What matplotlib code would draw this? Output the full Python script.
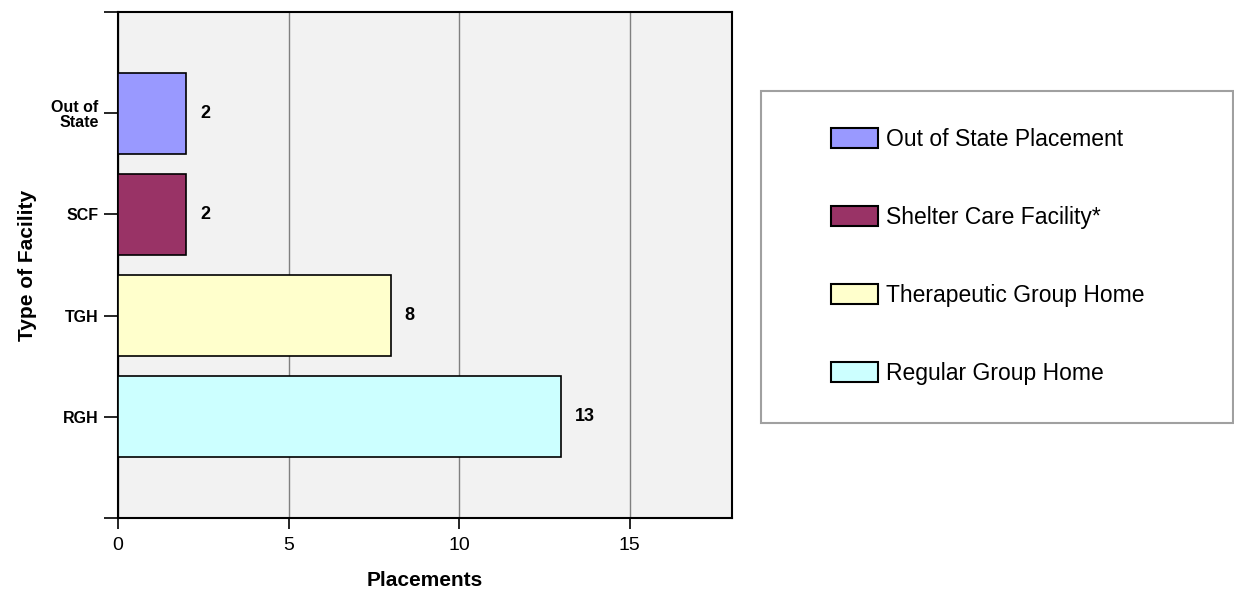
import matplotlib.pyplot as plt
from matplotlib.patches import Rectangle

# datos
categorias = ['RGH', 'TGH', 'SCF', 'Out of\nState']
valores = [13, 8, 2, 2]
nombres = ['Regular Group Home', 'Therapeutic Group Home', 'Shelter Care Facility*', 'Out of State Placement']
colores = ['#ccffff', '#ffffcc', '#993366', '#9999ff']

plt.rcParams['font.family'] = ['Liberation Sans', 'DejaVu Sans']

fig = plt.figure(figsize=(12.34, 5.97), dpi=100)
ax = fig.add_axes([118 / 1234, 1 - 518 / 597, (732 - 118) / 1234, (518 - 12) / 597])
ax.set_facecolor('#f2f2f2')

y = range(len(categorias))
barras = ax.barh(y, valores, height=0.8, color=colores, edgecolor='black', linewidth=1.2, zorder=3)
ax.bar_label(barras, padding=10, fontsize=13, fontweight='bold')

ax.set_xlim(0, 18)
ax.set_ylim(-1, 4)
ax.set_xticks([0, 5, 10, 15])
ax.tick_params(axis='x', labelsize=14, length=8, width=1.2, direction='out', pad=6)
ax.set_yticks([-1, 0, 1, 2, 3, 4])
ax.set_yticklabels([''] + categorias + [''], fontsize=11.5, fontweight='bold', linespacing=1.0)
ax.tick_params(axis='y', length=10, width=1.2, pad=4)
ax.grid(axis='x', color='#808080', linewidth=1, zorder=0)
for s in ax.spines.values():
    s.set_linewidth(1.5)

ax.set_xlabel('Placements', fontsize=15, fontweight='bold', labelpad=12)
ax.set_ylabel('Type of Facility', fontsize=15, fontweight='bold', labelpad=10)

# caja de la leyenda
fig.patches.append(Rectangle((761 / 1234, 1 - 423 / 597), (1233 - 761) / 1234, (423 - 91) / 597,
                             transform=fig.transFigure, facecolor='white', edgecolor='#a0a0a0',
                             linewidth=1.5))
handles = [Rectangle((0, 0), 1, 1, facecolor=c, edgecolor='black', linewidth=1.5) for c in colores]
orden = [3, 2, 1, 0]
fig.legend([handles[i] for i in orden], [nombres[i] for i in orden],
           loc='upper left', bbox_to_anchor=(831 / 1234, 1 - 128 / 597),
           frameon=False, fontsize=16.5, borderpad=0, borderaxespad=0,
           handlelength=2.05, handleheight=0.95, handletextpad=0.35, labelspacing=2.4)

fig.savefig('out.png', dpi=100)
